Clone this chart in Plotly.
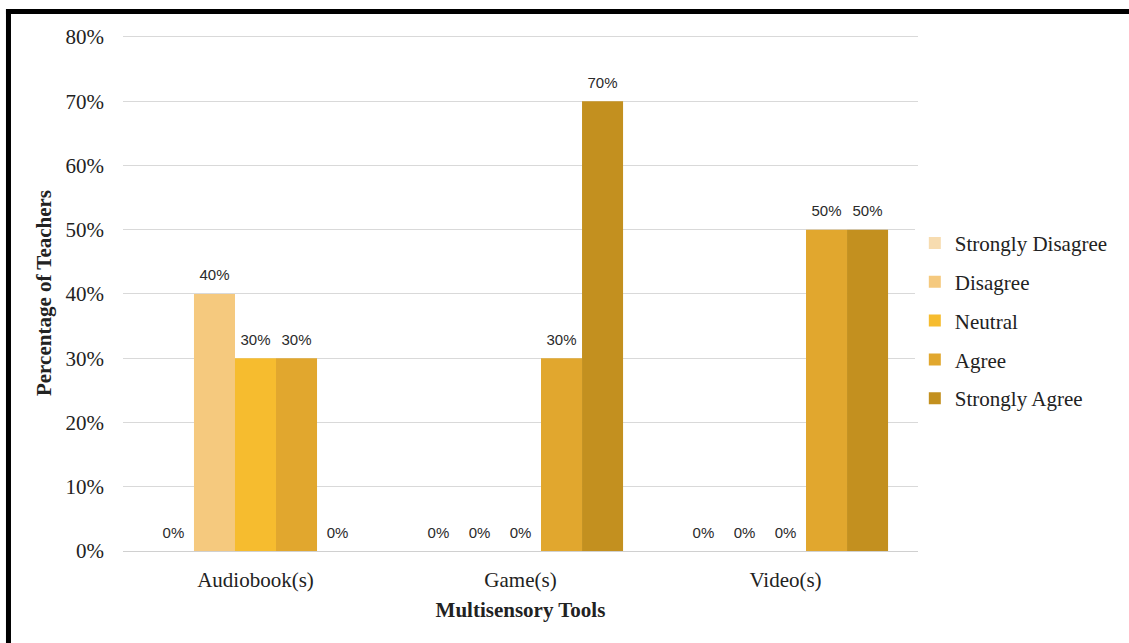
import plotly.graph_objects as go

categories = ["Audiobook(s)", "Game(s)", "Video(s)"]
series_names = ["Strongly Disagree", "Disagree", "Neutral", "Agree", "Strongly Agree"]
strongly_disagree = [0, 0, 0]
disagree = [40, 0, 0]
neutral = [30, 0, 0]
agree = [30, 30, 50]
strongly_agree = [0, 70, 50]
y_ticks = [0, 10, 20, 30, 40, 50, 60, 70, 80]

series_values = [strongly_disagree, disagree, neutral, agree, strongly_agree]
colors = ["#F7DCB0", "#F5C97E", "#F6BC2F", "#E1A72E", "#C3901F"]

serif = "Liberation Serif, Times New Roman, serif"
sans = "Liberation Sans, Arial, sans-serif"

fig = go.Figure()
for i, (name, vals, col) in enumerate(zip(series_names, series_values, colors)):
    fig.add_trace(go.Bar(
        x=categories, y=vals, name=name, legendgroup=name,
        offsetgroup=str(i), alignmentgroup="a",
        marker=dict(color=col, line=dict(width=0)),
        cliponaxis=False,
    ))
for i, (name, vals) in enumerate(zip(series_names, series_values)):
    fig.add_trace(go.Scatter(
        x=categories, y=vals, name=name, legendgroup=name, showlegend=False,
        offsetgroup=str(i), alignmentgroup="a",
        mode="markers+text", marker=dict(size=14, opacity=0),
        text=[f"{v}%" for v in vals], textposition="top center",
        textfont=dict(family=sans, size=15, color="#2a2a2a"),
        cliponaxis=False, hoverinfo="skip",
    ))

# frame lines (top and left) of the original picture
fig.add_shape(type="rect", xref="paper", yref="paper",
              x0=-0.1472, x1=1.27, y0=1.0407, y1=1.0504,
              fillcolor="black", line=dict(width=0), layer="above")
fig.add_shape(type="rect", xref="paper", yref="paper",
              x0=-0.1472, x1=-0.1409, y0=-0.2, y1=1.0504,
              fillcolor="black", line=dict(width=0), layer="above")

fig.update_layout(
    width=1129, height=643,
    margin=dict(l=123, r=211, t=35, b=92),
    paper_bgcolor="white", plot_bgcolor="white",
    barmode="group", bargap=0.226, bargroupgap=0,
    scattermode="group", scattergap=0.226,
    font=dict(family=serif, size=21, color="#222222"),
    legend=dict(
        x=0.996, xanchor="left", y=0.446, yanchor="middle",
        font=dict(family=serif, size=21, color="#222222"),
        tracegroupgap=8.5, traceorder="grouped",
        itemwidth=30,
    ),
    xaxis=dict(
        showgrid=False, showline=True, linecolor="#d0d0d0", linewidth=1,
        ticks="", ticklabelstandoff=10,
        tickfont=dict(family=serif, size=21, color="#222222"),
        title=dict(text="<b>Multisensory Tools</b>", standoff=11,
                   font=dict(family=serif, size=21, color="#222222")),
    ),
    yaxis=dict(
        range=[0, 80.3], tickvals=y_ticks, ticktext=[f"{t}%" for t in y_ticks],
        showgrid=True, gridcolor="#d9d9d9", gridwidth=1,
        zeroline=False, showline=False, ticks="", ticklabelstandoff=18,
        tickfont=dict(family=serif, size=21, color="#222222"),
        title=dict(text="<b>Percentage of Teachers</b>", standoff=8,
                   font=dict(family=serif, size=21, color="#222222")),
    ),
    showlegend=True,
)

fig.write_html("out.html")
